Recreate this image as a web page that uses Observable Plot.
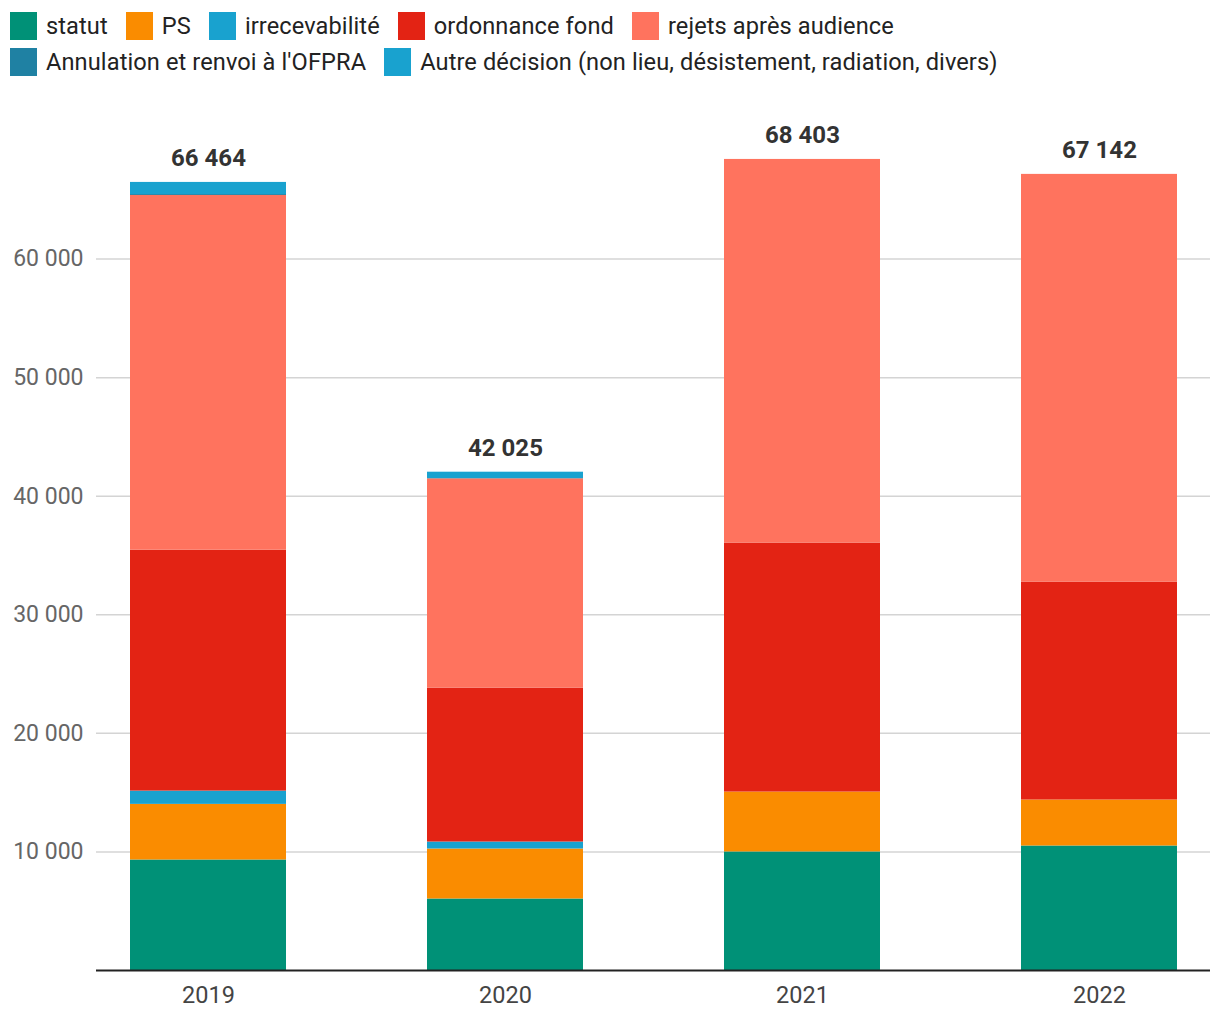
<!DOCTYPE html>
<html>
<head>
<meta charset="utf-8">
<script src="https://cdn.jsdelivr.net/npm/d3@7"></script>
<script src="https://cdn.jsdelivr.net/npm/@observablehq/plot@0.6"></script>
<style>
  html, body { margin: 0; padding: 0; background: #fff; }
  body { width: 1220px; height: 1020px; overflow: hidden; font-family: Roboto, "Noto Sans", sans-serif; }
  #legend { box-sizing: border-box; height: 90px; width: 1100px; padding: 12px 0 0 10px; }
  .row { display: flex; column-gap: 18px; height: 28px; margin-bottom: 8px; }
  .item { display: flex; align-items: center; height: 28px; font-size: 23.6px; color: #222; white-space: nowrap; letter-spacing: 0.1px; }
  .sw { width: 27px; height: 28px; margin-right: 9px; flex: none; }
</style>
</head>
<body>
<div id="legend"></div>
<div id="chart"></div>
<script>
const years = ["2019", "2020", "2021", "2022"];
const series = ["statut", "PS", "irrecevabilité", "ordonnance fond", "rejets après audience", "Annulation et renvoi à l'OFPRA", "Autre décision (non lieu, désistement, radiation, divers)"];
const colors = ["#009177", "#fa8c00", "#19a2cf", "#e32314", "#ff735e", "#1f81a3", "#19a2cf"];
const statut = [9320, 6030, 10000, 10500];
const ps = [4690, 4215, 5050, 3880];
const irrecevabilite = [1120, 590, 0, 0];
const ordonnanceFond = [20320, 12985, 21000, 18380];
const rejetsApresAudience = [29910, 17648, 32353, 34382];
const annulationRenvoi = [80, 20, 0, 0];
const autreDecision = [1024, 537, 0, 0];
const yTicks = [10000, 20000, 30000, 40000, 50000, 60000];

const values = [statut, ps, irrecevabilite, ordonnanceFond, rejetsApresAudience, annulationRenvoi, autreDecision];
const data = [];
series.forEach((s, i) => years.forEach((y, j) => data.push({year: y, serie: s, value: values[i][j]})));
const totals = years.map((y, j) => ({year: y, total: d3.sum(values, v => v[j])}));

const fr = d3.formatLocale({decimal: ",", thousands: "\u00a0", grouping: [3], currency: ["", " €"]});
const fmt = fr.format(",d");

// legend (two rows, as in the original)
const legend = document.getElementById("legend");
const rows = [document.createElement("div"), document.createElement("div")];
rows.forEach(r => { r.className = "row"; legend.appendChild(r); });
series.forEach((s, i) => {
  const it = document.createElement("div");
  it.className = "item";
  const sw = document.createElement("span");
  sw.className = "sw";
  sw.style.background = colors[i];
  const t = document.createElement("span");
  t.textContent = s;
  it.appendChild(sw); it.appendChild(t);
  rows[i < 5 ? 0 : 1].appendChild(it);
});

const chart = Plot.plot({
  width: 1220,
  height: 930,
  marginLeft: 96,
  marginRight: 10,
  marginTop: 50,
  marginBottom: 50,
  style: {fontFamily: "Roboto, 'Noto Sans', sans-serif", fontSize: "23px", background: "#fff", overflow: "visible"},
  x: {domain: years, paddingInner: 0.475, paddingOuter: 0.111, label: null},
  y: {domain: [0, 70000], label: null},
  color: {domain: series, range: colors},
  marks: [
    Plot.gridY(yTicks, {stroke: "#d4d4d4", strokeOpacity: 1, strokeWidth: 1.5}),
    Plot.barY(data, {x: "year", y: "value", fill: "serie"}),
    Plot.ruleY([0], {stroke: "#222", strokeWidth: 2}),
    Plot.text(totals, {x: "year", y: "total", text: d => fmt(d.total), dy: -24, fontWeight: "bold", fontSize: 24, fill: "#333"}),
    Plot.axisY({ticks: yTicks, tickSize: 0, tickPadding: 13, tickFormat: fmt, fill: "#666", fontSize: 23, label: null}),
    Plot.axisX({tickSize: 0, tickPadding: 16, fill: "#444", fontSize: 23.5, label: null})
  ]
});
document.getElementById("chart").appendChild(chart);
</script>
</body>
</html>
